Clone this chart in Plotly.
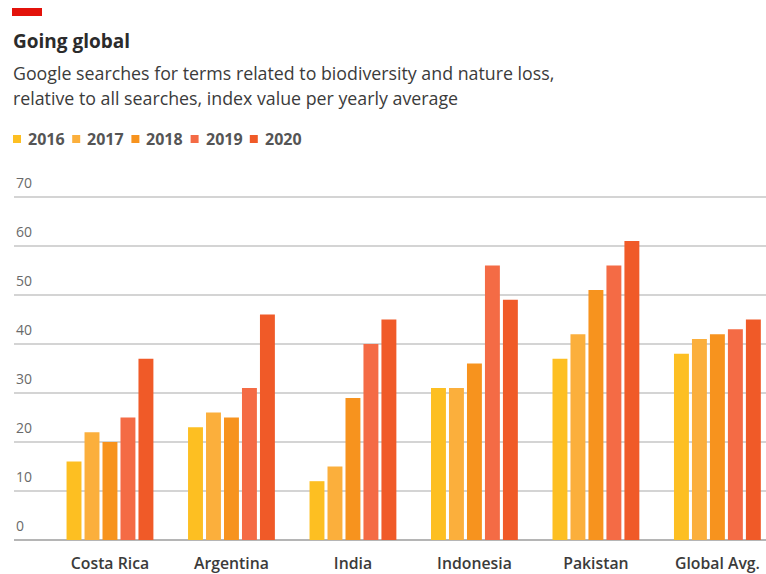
import plotly.graph_objects as go

countries = ["Costa Rica", "Argentina", "India", "Indonesia", "Pakistan", "Global Avg."]
years = ["2016", "2017", "2018", "2019", "2020"]
v2016 = [16, 23, 12, 31, 37, 38]
v2017 = [22, 26, 15, 31, 42, 41]
v2018 = [20, 25, 29, 36, 51, 42]
v2019 = [25, 31, 40, 56, 56, 43]
v2020 = [37, 46, 45, 49, 61, 45]
series = [v2016, v2017, v2018, v2019, v2020]
colors = ["#FDBF22", "#FBAF3C", "#F7931E", "#F46B45", "#F05A28"]
yticks = [0, 10, 20, 30, 40, 50, 60, 70]

FONT = "Open Sans"

fig = go.Figure()
for yr, vals, c in zip(years, series, colors):
    fig.add_trace(go.Bar(x=countries, y=vals, name=yr, marker=dict(color=c, line=dict(width=0)),
                         showlegend=False, hoverinfo="x+y+name"))

W, H = 766, 574
top, bottom, left = 195, 540, 14
fig.update_layout(
    width=W, height=H,
    margin=dict(l=left, r=0, t=top, b=H - bottom, pad=0),
    paper_bgcolor="white", plot_bgcolor="white",
    barmode="group", bargap=0.26, bargroupgap=0.17,
    font=dict(family=FONT, color="#555555"),
)
fig.update_xaxes(
    type="category", range=[-0.79, 5.40], showgrid=False, showline=False, ticks="",
    tickfont=dict(family=FONT, size=15.8, color="#3b3b3b", weight=600),
    ticklabelstandoff=12,
)
fig.update_yaxes(
    range=[0, 70.4], tickvals=yticks, showticklabels=False,
    showgrid=True, gridcolor="#d4d4d4", gridwidth=1.5,
    zeroline=True, zerolinecolor="#b5b5b5", zerolinewidth=1.5,
    showline=False, ticks="",
)

def ypx(py):
    return (bottom - py) / (bottom - top)

def xpx(px):
    return (px - left) / (W - left)

# y tick labels sitting above their gridlines
for t in yticks:
    fig.add_annotation(text=str(t), xref="paper", yref="y", x=xpx(14), y=t,
                       xanchor="left", yanchor="bottom", yshift=3, showarrow=False,
                       font=dict(family=FONT, size=14, color="#6a6a6a"))

# red tag
fig.add_shape(type="rect", xref="paper", yref="paper",
              x0=xpx(12), x1=xpx(42), y0=ypx(16), y1=ypx(8),
              fillcolor="#E3120B", line=dict(width=0), layer="above")

fig.add_annotation(text="<b>Going global</b>", xref="paper", yref="paper",
                   x=xpx(11), y=ypx(41), xanchor="left", yanchor="middle", showarrow=False,
                   font=dict(family=FONT, size=19, color="#2b2b2b"))
fig.add_annotation(text="Google searches for terms related to biodiversity and nature loss,",
                   xref="paper", yref="paper", x=xpx(11), y=ypx(73), xanchor="left", yanchor="middle",
                   showarrow=False, align="left",
                   font=dict(family=FONT, size=17.8, color="#3b3b3b"))
fig.add_annotation(text="relative to all searches, index value per yearly average",
                   xref="paper", yref="paper", x=xpx(11), y=ypx(98), xanchor="left", yanchor="middle",
                   showarrow=False, align="left",
                   font=dict(family=FONT, size=17.8, color="#3b3b3b"))

# legend: colour squares + labels
for i, (yr, c) in enumerate(zip(years, colors)):
    x0 = 13 + i * 59.2
    fig.add_shape(type="rect", xref="paper", yref="paper",
                  x0=xpx(x0), x1=xpx(x0 + 8), y0=ypx(143), y1=ypx(135),
                  fillcolor=c, line=dict(width=0), layer="above")
    fig.add_annotation(text=f"<b>{yr}</b>", xref="paper", yref="paper", x=xpx(x0 + 13), y=ypx(139),
                       xanchor="left", yanchor="middle", showarrow=False,
                       font=dict(family=FONT, size=16, color="#555555"))

fig.write_html("out.html",
               config={"displayModeBar": False},
               post_script="document.body.style.margin='0';document.body.style.padding='0';")
